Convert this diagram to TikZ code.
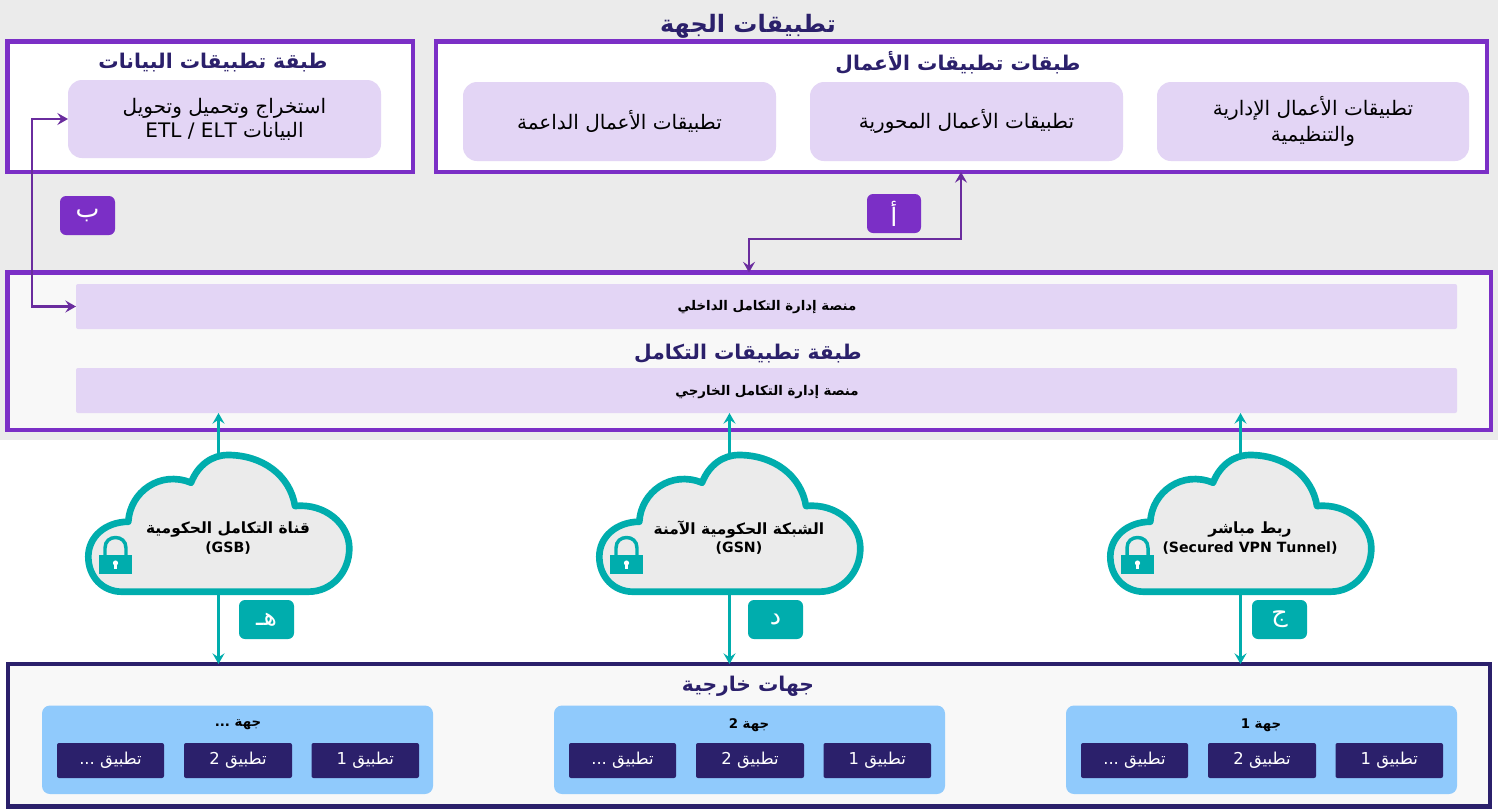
\documentclass[tikz,border=0pt]{standalone}
\usepackage{fontspec}
\setmainfont{DejaVu Sans}
\newfontfamily\arabicfont[Script=Arabic]{DejaVu Sans}
\TeXXeTstate=1
\usetikzlibrary{arrows.meta}
\definecolor{violetline}{HTML}{7B2FC6}
\definecolor{arrowviolet}{HTML}{6A2C9E}
\definecolor{navy}{HTML}{2B206B}
\definecolor{palepurple}{HTML}{E3D5F5}
\definecolor{greybg}{HTML}{EBEBEB}
\definecolor{offwhite}{HTML}{F8F8F8}
\definecolor{tealc}{HTML}{00ADAD}
\definecolor{skyblue}{HTML}{90CAFC}
\newcommand{\fs}[1]{\fontsize{#1}{#1}\selectfont}
\newcommand{\boxnode}[7]{%
  \node[#6, inner sep=0pt, outer sep=0pt,
        minimum width={((#3)-(#1))*0.75pt}, minimum height={((#4)-(#2))*0.75pt}]
    (#5) at ({((#1)+(#3))/2},{((#2)+(#4))/2}) {#7};}
\tikzset{
  base/.style={align=center, font=\arabicfont},
  layerbox/.style={draw=violetline, line width=3.2pt, fill=#1},
  layerbox/.default=white,
  extbox/.style={draw=navy, line width=3.2pt, fill=offwhite},
  pill/.style={base, fill=palepurple, rounded corners=10.5pt, font=\arabicfont\fs{15}},
  bar/.style={fill=palepurple, rounded corners=1.5pt},
  tagv/.style={base, fill=violetline, text=white, rounded corners=4.5pt, font=\arabicfont\fs{19}},
  tagt/.style={base, fill=tealc, text=white, rounded corners=4.5pt, font=\arabicfont\fs{19}},
  groupbox/.style={fill=skyblue, rounded corners=6pt},
  appbox/.style={base, fill=navy, text=white, rounded corners=1.5pt, font=\arabicfont\fs{12.3}},
  heading/.style={align=center, text=navy, font=\arabicfont\bfseries\fs{15.2}},
  bigheading/.style={align=center, text=navy, font=\arabicfont\bfseries\fs{18}},
  plainlabel/.style={align=center, text=black, font=\arabicfont\bfseries\fs{10}},
  cloudlabel/.style={align=center, text=black, font=\arabicfont\bfseries\fs{11.6}},
  tipv/.style={draw=arrowviolet, line width=1.8pt, {Stealth[length=8pt,width=9pt,inset=3pt]}-{Stealth[length=8pt,width=9pt,inset=3pt]}},
  tipt/.style={draw=tealc, line width=1.8pt, -{Stealth[length=8pt,width=9pt,inset=3pt]}},
  cloudline/.style={draw=tealc, line width=5pt, fill=greybg, line join=round},
}
\newcommand{\cloudat}[3]{%
\begin{scope}[shift={(#1,0)}]
  \coordinate (#2top) at (218.5,455);
  \coordinate (#2bot) at (218.5,592);
  \draw[cloudline] (121.7,591.7) -- (308.3,591.7)
    .. controls (332,591.7) and (349.3,572) .. (349.3,548.3)
    .. controls (349.3,524) and (325,503) .. (295,506)
    .. controls (290,475) and (262,455) .. (228,455)
    .. controls (212,455) and (198,465) .. (191,482.7)
    .. controls (160,470) and (130,492) .. (128.3,521.7)
    .. controls (105,522) and (88.3,537) .. (88.3,556.7)
    .. controls (88.3,577) and (103,591.7) .. (121.7,591.7) -- cycle;
  \fill[tealc] (99.3,555) rectangle (131.7,573.5);
  \draw[tealc, line width=2.6pt] (105,555) -- (105,548)
     .. controls (105,541) and (110,537.5) .. (115.5,537.5)
     .. controls (121,537.5) and (126,541) .. (126,548) -- (126,555);
  \fill[white] (115.5,563) circle (2.6);
  \fill[white] (114.2,563) rectangle (116.8,568.5);
  \node[cloudlabel] (#2txt) at (228,538) {#3};
\end{scope}}
\newcommand{\latinsub}{\fs{10.6}}
\begin{document}
\begin{tikzpicture}[x=0.75pt,y=-0.75pt]
\useasboundingbox (0,0) rectangle (1498,811);
\fill[white] (0,0) rectangle (1498,811);
\fill[greybg] (0,0) rectangle (1498,440);

\node[bigheading] (maintitle) at (748,26) {\beginR تطبيقات الجهة\endR};

% data layer
\boxnode{7.5}{41.5}{413}{172}{datalayer}{layerbox}{}
\node[heading] (datatitle) at (213,63) {\beginR طبقة تطبيقات البيانات\endR};
\boxnode{68}{80}{381}{158}{etl}{pill}{\beginR استخراج وتحميل وتحويل\endR\\[2pt]\beginR البيانات \beginL ETL / ELT\endL\endR}

% business layer
\boxnode{436}{41.5}{1487}{172}{bizlayer}{layerbox}{}
\node[heading] (biztitle) at (958,63) {\beginR طبقات تطبيقات الأعمال\endR};
\boxnode{1157}{82}{1469}{161}{bizreg}{pill}{\beginR تطبيقات الأعمال الإدارية\endR\\[3.7pt]\beginR والتنظيمية\endR}
\boxnode{810}{82}{1123}{161}{bizcore}{pill}{\beginR تطبيقات الأعمال المحورية\endR}
\boxnode{463}{82}{776}{161}{bizsup}{pill}{\beginR تطبيقات الأعمال الداعمة\endR}

% integration layer
\boxnode{7.5}{272.5}{1491}{430}{intlayer}{layerbox=offwhite}{}
\boxnode{76}{284}{1457}{329}{intplat}{bar}{}
\boxnode{76}{368}{1457}{413}{extplat}{bar}{}
\node[plainlabel] (intplatl) at (767,307.5) {\beginR منصة إدارة التكامل الداخلي\endR};
\node[plainlabel] (extplatl) at (767,392.5) {\beginR منصة إدارة التكامل الخارجي\endR};
\node[heading] (inttitle) at (748,354) {\beginR طبقة تطبيقات التكامل\endR};

% tags
\boxnode{60}{196}{115}{235}{tagb}{tagv}{\raisebox{-3.5pt}{\beginR ب\endR}}
\boxnode{867}{194}{921}{233}{taga}{tagv}{\beginR أ\endR}
\boxnode{239}{600}{294}{639}{tagh}{tagt}{\raisebox{-2pt}{\beginR هـ\endR}}
\boxnode{748}{600}{803}{639}{tagd}{tagt}{\raisebox{-2pt}{\beginR د\endR}}
\boxnode{1252}{600}{1307}{639}{tagj}{tagt}{\raisebox{-2pt}{\beginR ج\endR}}

% external layer
\boxnode{8}{664}{1490}{806.5}{extlayer}{extbox}{}
\node[heading] (exttitle) at (748,686) {\beginR جهات خارجية\endR};

\foreach \gx/\gname in {42/g3,554/g2,1066/g1}{
  \boxnode{\gx}{705.5}{\gx+391}{794}{\gname}{groupbox}{}
}
\node[plainlabel] (g3t) at (238,725) {\beginR جهة \beginL ...\endL\endR};
\node[plainlabel] (g2t) at (749,725) {\beginR جهة \beginL 2\endL\endR};
\node[plainlabel] (g1t) at (1261,725) {\beginR جهة \beginL 1\endL\endR};
\foreach \gx/\gn in {42/c,554/b,1066/a}{
  \boxnode{\gx+15}{743}{\gx+122}{778}{app\gn3}{appbox}{\beginR تطبيق \beginL ...\endL\endR}
  \boxnode{\gx+142}{743}{\gx+250}{778}{app\gn2}{appbox}{\beginR تطبيق \beginL 2\endL\endR}
  \boxnode{\gx+269.5}{743}{\gx+377}{778}{app\gn1}{appbox}{\beginR تطبيق \beginL 1\endL\endR}
}

% violet connectors
\coordinate (bjoin) at (32,119);
\draw[tipv] (etl.west) -- (bjoin) -- (bjoin |- intplat.west) -- (intplat.west);
\coordinate (ajoin) at (749,239);
\coordinate (ajoinb) at (961,239);
\draw[tipv] (ajoinb |- bizlayer.south) -- (ajoinb) -- (ajoin) -- (ajoin |- intlayer.north);

% clouds
\cloudat{0}{gsb}{\beginR قناة التكامل الحكومية\endR\\[2pt]{\latinsub\beginL (GSB)\endL}}
\cloudat{511}{gsn}{\beginR الشبكة الحكومية الآمنة\endR\\[2pt]{\latinsub\beginL (GSN)\endL}}
\cloudat{1022}{vpn}{\beginR ربط مباشر\endR\\[2pt]{\latinsub\beginL (Secured VPN Tunnel)\endL}}

% teal connectors
\foreach \c in {gsb,gsn,vpn}{
  \draw[tipt] (\c top) -- (\c top |- extplat.south);
  \draw[tipt] (\c bot) -- (\c bot |- extlayer.north);
}
\end{tikzpicture}
\end{document}
